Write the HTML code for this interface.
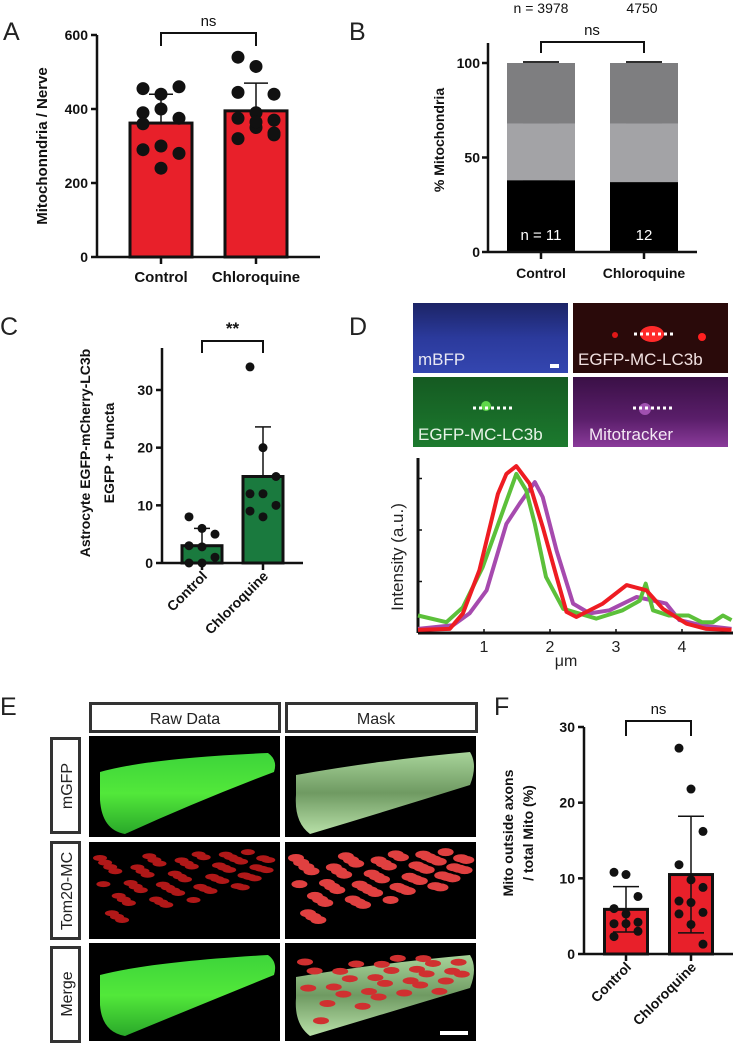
<!DOCTYPE html>
<html><head><meta charset="utf-8"><style>
html,body{margin:0;padding:0;background:#fff;}
svg{display:block;}
text{font-family:"Liberation Sans",sans-serif;}
</style></head><body>
<svg id="fig" width="735" height="1048" viewBox="0 0 735 1048" xmlns="http://www.w3.org/2000/svg">
<defs>
<linearGradient id="gBlue" x1="0" y1="0" x2="0" y2="1"><stop offset="0" stop-color="#1c2466"/><stop offset="0.5" stop-color="#2b3a9c"/><stop offset="1" stop-color="#3446b0"/></linearGradient>
<linearGradient id="gGreen" x1="0" y1="0" x2="0" y2="1"><stop offset="0" stop-color="#155a22"/><stop offset="1" stop-color="#1c7a2e"/></linearGradient>
<linearGradient id="gPurp" x1="0" y1="0" x2="0" y2="1"><stop offset="0" stop-color="#3a1046"/><stop offset="0.6" stop-color="#5a1e6a"/><stop offset="1" stop-color="#8a3a9a"/></linearGradient>
<linearGradient id="tubeG" x1="0" y1="0" x2="0" y2="1"><stop offset="0" stop-color="#3dd43a"/><stop offset="0.5" stop-color="#52e83a"/><stop offset="1" stop-color="#2aa82a"/></linearGradient>
<linearGradient id="maskG" x1="0" y1="0" x2="0" y2="1"><stop offset="0" stop-color="#a8d49a"/><stop offset="0.5" stop-color="#6f9a62"/><stop offset="1" stop-color="#b8e0a8"/></linearGradient>
</defs>

<text x="3" y="40" font-size="25" fill="#222">A</text>
<text x="349" y="40" font-size="25" fill="#222">B</text>
<text x="0" y="335" font-size="25" fill="#222">C</text>
<text x="349" y="335" font-size="25" fill="#222">D</text>
<text x="0" y="715" font-size="25" fill="#222">E</text>
<text x="494" y="715" font-size="25" fill="#222">F</text>

<g id="pA"></g>
<g id="pB"></g>
<g id="pC"></g>
<g id="pF"></g>

<g>
<rect x="413" y="303" width="155" height="70" fill="url(#gBlue)"/>
<text x="418" y="365" font-size="17" fill="#e8e8f4">mBFP</text>
<rect x="550" y="364" width="9" height="4" fill="#fff"/>
<rect x="573" y="303" width="155" height="70" fill="#2a0a0a"/>
<ellipse cx="652" cy="334" rx="12" ry="8" fill="#ff2a2a"/><circle cx="615" cy="335" r="3" fill="#e01818"/><circle cx="702" cy="337" r="4" fill="#ff2020"/>
<text x="578" y="365" font-size="17" fill="#f0e0e0">EGFP-MC-LC3b</text>
<rect x="413" y="377" width="155" height="70" fill="url(#gGreen)"/>
<circle cx="486" cy="406" r="5" fill="#5fd84a"/>
<text x="418" y="440" font-size="17" fill="#e8f4e8">EGFP-MC-LC3b</text>
<rect x="573" y="377" width="155" height="70" fill="url(#gPurp)"/>
<circle cx="645" cy="409" r="6" fill="#a050b0"/>
<text x="589" y="440" font-size="17" fill="#f4e8f4">Mitotracker</text>
<line x1="634" y1="334" x2="674" y2="334" stroke="#fff" stroke-width="3" stroke-dasharray="3,3"/>
<line x1="473" y1="408" x2="513" y2="408" stroke="#fff" stroke-width="3" stroke-dasharray="3,3"/>
<line x1="633" y1="408" x2="673" y2="408" stroke="#fff" stroke-width="3" stroke-dasharray="3,3"/>
</g>
<g id="pD"></g>

<g>
<rect x="90.5" y="703.5" width="189" height="28" fill="#fff" stroke="#333" stroke-width="3"/>
<text x="185" y="724" font-size="16" text-anchor="middle" fill="#222">Raw Data</text>
<rect x="286.5" y="703.5" width="190" height="28" fill="#fff" stroke="#333" stroke-width="3"/>
<text x="376" y="724" font-size="16" text-anchor="middle" fill="#222">Mask</text>
<rect x="51.5" y="738.5" width="28" height="94" fill="#fff" stroke="#333" stroke-width="3"/>
<text transform="translate(72,786) rotate(-90)" font-size="16" text-anchor="middle" fill="#222">mGFP</text>
<rect x="51.5" y="842.5" width="28" height="96" fill="#fff" stroke="#333" stroke-width="3"/>
<text transform="translate(72,891) rotate(-90)" font-size="16" text-anchor="middle" fill="#222">Tom20-MC</text>
<rect x="51.5" y="947.5" width="28" height="94" fill="#fff" stroke="#333" stroke-width="3"/>
<text transform="translate(72,994) rotate(-90)" font-size="16" text-anchor="middle" fill="#222">Merge</text>
<rect x="89" y="736" width="191" height="101" fill="#000"/>
<rect x="285" y="736" width="191" height="101" fill="#000"/>
<rect x="89" y="842" width="191" height="97" fill="#000"/>
<rect x="285" y="842" width="191" height="97" fill="#000"/>
<rect x="89" y="943" width="191" height="98" fill="#000"/>
<rect x="285" y="943" width="191" height="98" fill="#000"/>
<path d="M100,772 Q150,758 268,753 Q278,760 274,772 Q200,800 125,834 Q102,830 100,800 Z" fill="url(#tubeG)"/>
<path d="M296,775 Q380,760 470,752 Q478,765 470,785 Q390,810 310,834 Q294,822 296,795 Z" fill="url(#maskG)"/>
<path d="M100,975 Q150,962 268,955 Q278,962 274,975 Q200,1005 125,1036 Q102,1032 100,1005 Z" fill="url(#tubeG)"/>
<path d="M296,977 Q380,963 470,955 Q478,968 470,988 Q390,1012 310,1036 Q294,1024 296,998 Z" fill="url(#maskG)"/>
<g id="mitoRaw" fill="#b01818"></g><g id="mitoMask" fill="#e04040"></g>
<g id="mitoMerge" fill="#d03030"></g>
<rect x="440" y="1031" width="28" height="4" fill="#fff"/>
</g>

<script>
var NS="http://www.w3.org/2000/svg";
function mk(parent,tag,attrs,txt){var e=document.createElementNS(NS,tag);for(var k in attrs)e.setAttribute(k,attrs[k]);if(txt!==undefined)e.textContent=txt;parent.appendChild(e);return e;}

var aCategories=["Control","Chloroquine"];
var aMeans=[362,395];
var aSD=[78,75];
var aCtrlPoints=[455,440,460,390,400,375,360,300,280,290,240];
var aChloroPoints=[540,515,440,445,390,370,375,350,330,320,365,335];
var aTicks=[0,200,400,600];
var bCategories=["Control","Chloroquine"];
var bBlack=[38,37];
var bLight=[30,31];
var bDark=[32,32];
var bTopN=["n = 3978","4750"];
var bInN=["n = 11","12"];
var bTicks=[0,50,100];
var cCategories=["Control","Chloroquine"];
var cMeans=[3,15];
var cSD=[3,8.6];
var cCtrlPoints=[8,6,5,3,2.8,1,0,0];
var cChloroPoints=[34,20,15,12,12,10,9,8];
var cTicks=[0,10,20,30];
var dXTicks=[1,2,3,4];
var dYTicks=[1,2,3];
var dGreenX=[0,0.43,0.68,0.98,1.29,1.49,1.64,1.77,1.94,2.2,2.7,3.1,3.36,3.45,3.56,3.8,4.1,4.3,4.47,4.62,4.75];
var dGreenY=[0.34,0.21,0.5,1.28,2.38,3.09,2.77,2.12,1.09,0.47,0.28,0.44,0.63,0.96,0.44,0.34,0.34,0.21,0.21,0.34,0.25];
var dPurpleX=[0,0.53,0.78,1.04,1.34,1.54,1.77,1.89,2.1,2.35,2.6,2.9,3.31,3.56,3.76,3.96,4.3,4.75];
var dPurpleY=[0.08,0.15,0.38,0.83,2.12,2.51,2.93,2.64,1.6,0.57,0.38,0.44,0.7,0.63,0.57,0.25,0.15,0.08];
var dRedX=[0,0.48,0.68,0.93,1.21,1.34,1.49,1.69,1.89,2.1,2.25,2.4,2.8,3.16,3.46,3.71,4.07,4.37,4.75];
var dRedY=[0.06,0.08,0.38,1.22,2.7,3.09,3.24,2.9,2.06,1.09,0.41,0.31,0.57,0.93,0.83,0.47,0.18,0.08,0.06];
var fCategories=["Control","Chloroquine"];
var fMeans=[5.9,10.5];
var fSD=[3,7.7];
var fCtrlPoints=[10.8,10.5,7.6,6,5.3,4.2,4,4,3,2.3];
var fChloroPoints=[27.2,21.8,16.2,11.8,9.8,8.8,7,6.8,5.5,5.3,3.9,1.3];
var fTicks=[0,10,20,30];

function barScatter(g,o){
  function y(v){return o.y0-v*(o.y0-o.yTop)/(o.vTop);}
  var ya=mk(g,"line",{x1:o.ax,y1:o.axisTop,x2:o.ax,y2:o.y0,stroke:"#111","stroke-width":2.5});
  
  
  var xa=mk(g,"line",{x1:o.ax,y1:o.y0,x2:o.axEnd,y2:o.y0,stroke:"#111","stroke-width":2.5});
  
  
  o.ticks.forEach(function(t){
    mk(g,"line",{x1:o.ax-6,y1:y(t),x2:o.ax,y2:y(t),stroke:"#111","stroke-width":2.5});
    var tl=mk(g,"text",{x:o.ax-9,y:y(t)+5,"font-size":14,"font-weight":"bold","text-anchor":"end",fill:"#111"},t);
    
    
  });
  o.cats.forEach(function(c,i){
    var cx=o.centers[i];
    mk(g,"line",{x1:cx,y1:o.y0,x2:cx,y2:o.y0+7,stroke:"#111","stroke-width":2.5});
    var bar=mk(g,"rect",{x:cx-o.bw/2,y:y(o.means[i]),width:o.bw,height:o.y0-y(o.means[i]),fill:o.color,stroke:"#111","stroke-width":3});
    
    
    var lo=o.errBoth?o.means[i]-o.sd[i]:o.means[i];
    mk(g,"line",{x1:cx,y1:y(o.means[i]+o.sd[i]),x2:cx,y2:y(lo),stroke:"#111","stroke-width":1.5});
    mk(g,"line",{x1:cx-o.cap,y1:y(o.means[i]+o.sd[i]),x2:cx+o.cap,y2:y(o.means[i]+o.sd[i]),stroke:"#111","stroke-width":1.5});
    if(o.errBoth)mk(g,"line",{x1:cx-o.cap,y1:y(lo),x2:cx+o.cap,y2:y(lo),stroke:"#111","stroke-width":1.5});
    o.points[i].forEach(function(v,j){
      var off=((j%3)-1)*o.jit;
      var d=mk(g,"circle",{cx:cx+off,cy:y(v),r:o.r,fill:"#111"});
      
      
    });
    var lab;
    if(o.rot){lab=mk(g,"text",{transform:"translate("+(cx+6)+","+(o.y0+14)+") rotate(-45)","font-size":14,"font-weight":"bold","text-anchor":"end",fill:"#111"},c);}
    else lab=mk(g,"text",{x:cx,y:o.y0+25,"font-size":15,"font-weight":"bold","text-anchor":"middle",fill:"#111"},c);
    
    
  });
  var br=mk(g,"path",{d:"M"+o.centers[0]+","+o.brB+" V"+o.brT+" H"+o.centers[1]+" V"+o.brB,fill:"none",stroke:"#111","stroke-width":2});
  
  
  var st=mk(g,"text",{x:(o.centers[0]+o.centers[1])/2,y:o.brT-7,"font-size":o.sigBold?17:15,"font-weight":o.sigBold?"bold":"normal","text-anchor":"middle",fill:"#111"},o.sig);
  
  
  o.title.forEach(function(t,k){
    var tt=mk(g,"text",{transform:"translate("+o.titleX[k]+","+o.titleY+") rotate(-90)","font-size":o.tfs||14,"font-weight":"bold","text-anchor":"middle",fill:"#111"},t);
    
    
  });
}

barScatter(document.getElementById("pA"),{ax:97,axisTop:35,y0:257,yTop:35,vTop:600,axEnd:320,ticks:aTicks,cats:aCategories,centers:[161,256],bw:62,means:aMeans,sd:aSD,points:[aCtrlPoints,aChloroPoints],color:"#e8202a",cap:12,r:6.5,jit:18,brT:33,brB:46,sig:"ns",tfs:15,title:["Mitochonndria / Nerve"],titleX:[47],titleY:146});
barScatter(document.getElementById("pC"),{ax:162,axisTop:348,y0:563,yTop:390,vTop:30,axEnd:303,ticks:cTicks,cats:cCategories,centers:[202,263],bw:40,means:cMeans,sd:cSD,points:[cCtrlPoints,cChloroPoints],color:"#1a7a3e",cap:8,r:4.5,jit:13,brT:341,brB:353,sig:"**",sigBold:true,rot:true,title:["Astrocyte EGFP-mCherry-LC3b","EGFP + Puncta"],titleX:[90,114],titleY:453});
barScatter(document.getElementById("pF"),{ax:584,axisTop:727,y0:954,yTop:727,vTop:30,axEnd:733,ticks:fTicks,cats:fCategories,centers:[626,691],bw:43,means:fMeans,sd:fSD,points:[fCtrlPoints,fChloroPoints],color:"#e8202a",cap:13,r:4.5,jit:12,brT:721,brB:736,sig:"ns",errBoth:true,rot:true,title:["Mito outside axons","/ total Mito (%)"],titleX:[513,533],titleY:833});

(function(){
  var g=document.getElementById("pB");
  var ax=488,y0=252,yT=63;
  function y(v){return y0-v*(y0-yT)/100;}
  var centers=[541,644],bw=68;
  bCategories.forEach(function(c,i){
    var cx=centers[i];
    var segs=[[0,bBlack[i],"#000"],[bBlack[i],bBlack[i]+bLight[i],"#a3a3a6"],[bBlack[i]+bLight[i],bBlack[i]+bLight[i]+bDark[i],"#7e7e80"]];
    segs.forEach(function(s){
      var r=mk(g,"rect",{x:cx-bw/2,y:y(s[1]),width:bw,height:y(s[0])-y(s[1]),fill:s[2]});
      
      
      mk(g,"line",{x1:cx-18,y1:y(s[1])-1,x2:cx+18,y2:y(s[1])-1,stroke:"#111","stroke-width":1.8});
    });
    mk(g,"line",{x1:cx,y1:y0,x2:cx,y2:y0+7,stroke:"#111","stroke-width":2.5});
    var l=mk(g,"text",{x:cx,y:y0+26,"font-size":14,"font-weight":"bold","text-anchor":"middle",fill:"#111"},c);
    
    
    var n=mk(g,"text",{x:cx,y:y0-12,"font-size":15,"text-anchor":"middle",fill:"#fff"},bInN[i]);
    
    
    var tn=mk(g,"text",{x:cx+(i==0?0:-2),y:13,"font-size":14,"text-anchor":"middle",fill:"#111"},bTopN[i]);
    
    
  });
  var ya=mk(g,"line",{x1:ax,y1:43,x2:ax,y2:y0,stroke:"#111","stroke-width":2.5});
  
  
  var xa=mk(g,"line",{x1:ax,y1:y0,x2:697,y2:y0,stroke:"#111","stroke-width":2.5});
  
  
  bTicks.forEach(function(t){
    mk(g,"line",{x1:ax-6,y1:y(t),x2:ax,y2:y(t),stroke:"#111","stroke-width":2.5});
    var tl=mk(g,"text",{x:ax-8,y:y(t)+5,"font-size":14,"font-weight":"bold","text-anchor":"end",fill:"#111"},t);
    
    
  });
  mk(g,"path",{d:"M541,53 V42 H644 V53",fill:"none",stroke:"#111","stroke-width":2});
  var s=mk(g,"text",{x:592,y:35,"font-size":15,"text-anchor":"middle",fill:"#111"},"ns");
  
  
  var t=mk(g,"text",{transform:"translate(444,140) rotate(-90)","font-size":14,"font-weight":"bold","text-anchor":"middle",fill:"#111"},"% Mitochondria");
  
  
})();

(function(){
  var g=document.getElementById("pD");
  var x0=418,ux=66,y0=633,uy=51.5;
  function X(v){return x0+v*ux;} function Y(v){return y0-v*uy;}
  var ya=mk(g,"line",{x1:x0,y1:458,x2:x0,y2:y0,stroke:"#111","stroke-width":3});
  
  
  var xa=mk(g,"line",{x1:x0,y1:y0,x2:733,y2:y0,stroke:"#111","stroke-width":3});
  
  
  dYTicks.forEach(function(t){mk(g,"line",{x1:x0,y1:Y(t),x2:x0+4,y2:Y(t),stroke:"#111","stroke-width":1.5});});
  dXTicks.forEach(function(t){
    mk(g,"line",{x1:X(t),y1:y0,x2:X(t),y2:y0-4,stroke:"#111","stroke-width":1.5});
    var l=mk(g,"text",{x:X(t),y:y0+19,"font-size":16,"text-anchor":"middle",fill:"#222"},t);
    
    
  });
  function line(xs,ys,col,name){
    var d=xs.map(function(v,i){return (i?"L":"M")+X(v).toFixed(1)+","+Y(ys[i]).toFixed(1);}).join(" ");
    var p=mk(g,"path",{d:d,fill:"none",stroke:col,"stroke-width":4,"stroke-linejoin":"round"});
    
    
  }
  line(dPurpleX,dPurpleY,"#a64aae","mitotracker-profile-line");
  line(dGreenX,dGreenY,"#5cc03a","egfp-profile-line");
  line(dRedX,dRedY,"#ee1c22","mcherry-profile-line");
  var xt=mk(g,"text",{x:566,y:666,"font-size":16,"text-anchor":"middle",fill:"#222"},"μm");
  
  
  var yt=mk(g,"text",{transform:"translate(403,557) rotate(-90)","font-size":17,"text-anchor":"middle",fill:"#222"},"Intensity (a.u.)");
  
  
})();

(function(){
  var raw=document.getElementById("mitoRaw"),mask=document.getElementById("mitoMask"),mer=document.getElementById("mitoMerge");
  for(var i=0;i<60;i++){
    var sx=((i*37)%100)/100, sy=((i*53)%100)/100;
    var taper=1-sx*0.55;
    var cy=858+sy*70*taper - sx*8;
    mk(raw,"ellipse",{cx:100+sx*170,cy:cy,rx:7,ry:3});
    mk(mask,"ellipse",{cx:296+sx*172,cy:cy,rx:8,ry:4});
    if(i%2==0) mk(mer,"ellipse",{cx:305+sx*160,cy:cy+104,rx:8,ry:3.5});
  }
})();
</script>
</svg>
</body></html>
